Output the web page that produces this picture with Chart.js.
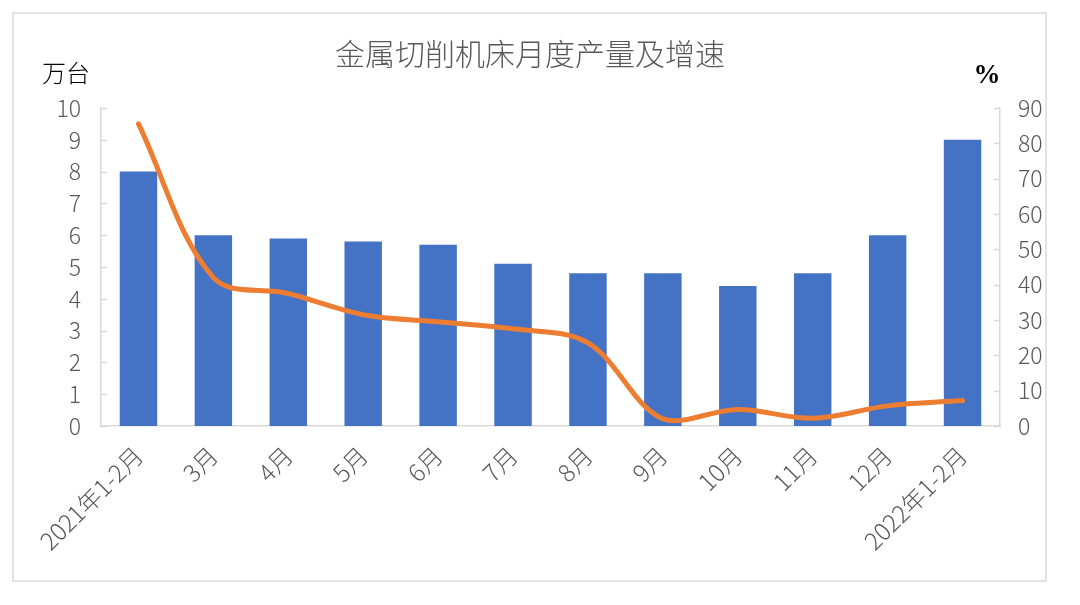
<!DOCTYPE html>
<html>
<head>
<meta charset="utf-8">
<script src="https://cdn.jsdelivr.net/npm/chart.js@4"></script>
<style>
  html, body { margin: 0; padding: 0; background: #ffffff; }
  #wrap { position: relative; width: 1080px; height: 605px; }
  canvas { display: block; }
</style>
</head>
<body>
<div id="wrap"><canvas id="c" width="1080" height="605"></canvas></div>
<script>
const categories = ['2021年1-2月', '3月', '4月', '5月', '6月', '7月', '8月', '9月', '10月', '11月', '12月', '2022年1-2月'];
const production = [8.0, 6.0, 5.9, 5.8, 5.7, 5.1, 4.8, 4.8, 4.4, 4.8, 6.0, 9.0];
const growth = [85.5, 42.0, 37.5, 31.5, 29.5, 27.5, 23.5, 2.0, 4.7, 2.2, 5.7, 7.2];
const leftTicks = [0, 1, 2, 3, 4, 5, 6, 7, 8, 9, 10];
const rightTicks = [0, 10, 20, 30, 40, 50, 60, 70, 80, 90];
const titleText = '金属切削机床月度产量及增速';
const leftUnit = '万台';
const rightUnit = '%';

const FONT = '"Noto Sans CJK SC", "Noto Sans", sans-serif';
const GRAY = '#595959';
const AXIS = '#d9d9d9';

const decor = {
  id: 'decor',
  beforeDraw(chart) {
    const ctx = chart.ctx;
    ctx.save();
    ctx.fillStyle = '#ffffff';
    ctx.fillRect(0, 0, chart.width, chart.height);
    ctx.restore();
  },
  afterDraw(chart) {
    const ctx = chart.ctx;
    ctx.save();
    // outer border
    ctx.strokeStyle = AXIS;
    ctx.lineWidth = 1.5;
    ctx.strokeRect(13, 13, 1033, 568);
    // title
    ctx.fillStyle = GRAY;
    ctx.font = '300 30px ' + FONT;
    ctx.textAlign = 'center';
    ctx.textBaseline = 'middle';
    ctx.fillText(titleText, 530, 54);
    // unit labels
    ctx.fillStyle = '#000000';
    ctx.font = '300 24px ' + FONT;
    ctx.fillText(leftUnit, 66, 73);
    ctx.font = 'bold 27px "Liberation Serif", "DejaVu Serif", serif';
    ctx.fillText(rightUnit, 987, 76);
    // inward tick marks
    ctx.strokeStyle = AXIS;
    ctx.lineWidth = 1.5;
    const y = chart.scales.y, y1 = chart.scales.y1;
    const area = chart.chartArea;
    leftTicks.forEach(v => {
      const p = Math.round(y.getPixelForValue(v)) + 0.5;
      ctx.beginPath(); ctx.moveTo(area.left, p); ctx.lineTo(area.left + 6, p); ctx.stroke();
    });
    rightTicks.forEach(v => {
      const p = Math.round(y1.getPixelForValue(v)) + 0.5;
      ctx.beginPath(); ctx.moveTo(area.right, p); ctx.lineTo(area.right - 6, p); ctx.stroke();
    });
    ctx.restore();
  }
};

new Chart(document.getElementById('c'), {
  type: 'bar',
  data: {
    labels: categories,
    datasets: [
      {
        type: 'line',
        label: '增速',
        data: growth,
        yAxisID: 'y1',
        borderColor: '#ED7D31',
        backgroundColor: '#ED7D31',
        borderWidth: 5,
        borderCapStyle: 'round',
        borderJoinStyle: 'round',
        pointRadius: 0,
        tension: 0.35,
        fill: false,
        order: 0
      },
      {
        type: 'bar',
        label: '产量',
        data: production,
        yAxisID: 'y',
        backgroundColor: '#4472C4',
        borderWidth: 0,
        categoryPercentage: 1.0,
        barPercentage: 0.5,
        order: 1
      }
    ]
  },
  options: {
    responsive: false,
    animation: false,
    devicePixelRatio: 1,
    layout: { padding: { top: 108, left: 0, right: 0, bottom: 0 } },
    plugins: {
      legend: { display: false },
      title: { display: false },
      tooltip: { enabled: false }
    },
    scales: {
      x: {
        offset: true,
        grid: { display: false, drawTicks: false },
        border: { display: true, color: AXIS, width: 1.5 },
        ticks: {
          color: GRAY,
          font: { family: FONT, size: 24, weight: '300' },
          maxRotation: 45,
          minRotation: 45,
          padding: 15,
          autoSkip: false
        },
        afterFit(scale) { scale.height = 179; }
      },
      y: {
        position: 'left',
        min: 0,
        max: 10,
        afterBuildTicks(scale) { scale.ticks = leftTicks.map(v => ({ value: v })); },
        grid: { display: false, drawTicks: false },
        border: { display: true, color: AXIS, width: 1.5 },
        ticks: {
          color: GRAY,
          font: { family: FONT, size: 23, weight: '300' },
          padding: 20
        },
        afterFit(scale) { scale.width = 101; }
      },
      y1: {
        position: 'right',
        min: 0,
        max: 90,
        afterBuildTicks(scale) { scale.ticks = rightTicks.map(v => ({ value: v })); },
        grid: { display: false, drawTicks: false },
        border: { display: true, color: AXIS, width: 1.5 },
        ticks: {
          color: GRAY,
          font: { family: FONT, size: 23, weight: '300' },
          padding: 18
        },
        afterFit(scale) { scale.width = 80; }
      }
    }
  },
  plugins: [decor]
});
</script>
</body>
</html>
